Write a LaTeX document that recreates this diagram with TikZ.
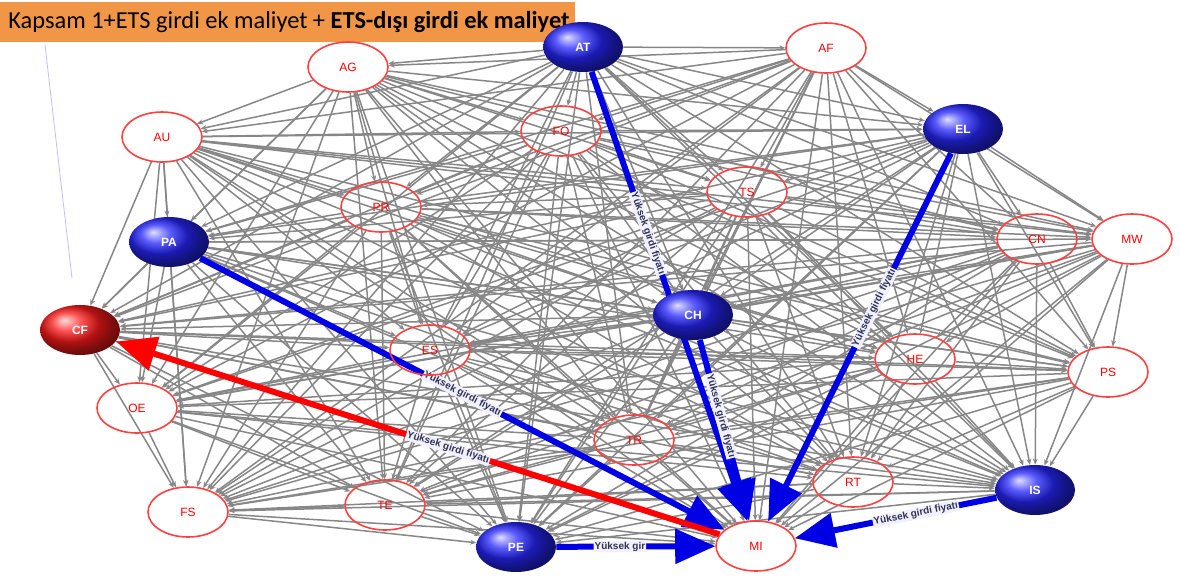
\documentclass[tikz,border=0pt]{standalone}
\usepackage{fontspec}
\setmainfont{Liberation Sans}
\newfontfamily\boxfont{Carlito}
\usetikzlibrary{%
  arrows.meta,
  backgrounds,
  shapes.geometric,
}
\definecolor{boxorange}{RGB}{240,150,70}
\definecolor{edgegray}{RGB}{135,135,135}
\definecolor{labelink}{RGB}{50,50,85}

\begin{document}
\begin{tikzpicture}[
    x = 0.5pt, y = -0.5pt,
    sector/.style = {
      ellipse,
      minimum width = 40pt, minimum height = 25pt,
      inner sep = 0pt,
      font = \fontsize{6}{7}\selectfont,
    },
    plain/.style = {sector, draw = red!75, thick, text = red},
    hub/.style = {sector, shading = ball, ball color = blue!85!white, text = white, font = \fontsize{6}{7}\selectfont\bfseries},
    hot/.style = {hub, ball color = red!90!white},
    link/.style = {edgegray, line width = 0.75pt, -{Stealth[length = 3pt, width = 2.5pt]}},
    impact/.style = {line width = 3pt, -{Triangle[length = 20pt, width = 17pt]}},
    tag/.style = {sloped, fill = blue!6, inner sep = 0.5pt, text = labelink, font = \fontsize{5}{6}\selectfont\bfseries},
  ]
  \useasboundingbox (0,0) rectangle (1180,579);

  \node (title) [
    anchor = north west, fill = boxorange,
    minimum height = 20pt, inner xsep = 4pt,
    font = \boxfont\fontsize{12.2}{14}\selectfont,
  ] at (0,2) {\makebox[279.5pt][l]{Kapsam 1+ETS girdi ek maliyet + \textbf{ETS-dışı girdi ek maliyet}}};

  \node (AT) [hub]   at (583,47)   {AT};
  \node (AF) [plain] at (826,48)   {AF};
  \node (AG) [plain] at (348,67)   {AG};
  \node (AU) [plain] at (162,137)  {AU};
  \node (FO) [plain] at (561,131)  {FO};
  \node (EL) [hub]   at (963,129)  {EL};
  \node (TS) [plain] at (747,192)  {TS};
  \node (PR) [plain] at (381,207)  {PR};
  \node (PA) [hub]   at (169,242)  {PA};
  \node (CN) [plain] at (1037,239) {CN};
  \node (MW) [plain] at (1132,239) {MW};
  \node (CH) [hub]   at (693,315)  {CH};
  \node (CF) [hot]   at (80,330)   {CF};
  \node (ES) [plain] at (430,350)  {ES};
  \node (HE) [plain] at (915,359)  {HE};
  \node (PS) [plain] at (1108,372) {PS};
  \node (OE) [plain] at (137,408)  {OE};
  \node (TR) [plain] at (634,440)  {TR};
  \node (RT) [plain] at (853,482)  {RT};
  \node (IS) [hub]   at (1035,490) {IS};
  \node (FS) [plain] at (188,512)  {FS};
  \node (TE) [plain] at (385,505)  {TE};
  \node (PE) [hub]   at (516,547)  {PE};
  \node (MI) [plain] at (756,546)  {MI};

  \coordinate (pin top) at (45,45);
  \coordinate (pin end) at (72,278);

  \begin{scope}[on background layer]
    \def\sectors{AT,AF,AG,AU,FO,EL,TS,PR,PA,CN,MW,CH,CF,ES,HE,PS,OE,TR,RT,IS,FS,TE,PE,MI}
    \foreach \a [count = \i] in \sectors {
      \foreach \b [count = \j] in \sectors {
        \ifnum\j>\i \draw[link] (\a) -- (\b); \fi
      }
    }
    \draw[blue!25, thin] (pin top) -- (pin end);

    \begin{scope}[impact, blue!90!black]
      \draw (AT) -- node[tag, pos = 0.36] {Yüksek girdi fiyatı} (MI);
      \draw (CH) -- node[tag, pos = 0.42] {Yüksek girdi fiyatı} (MI);
      \draw (EL) -- node[tag, pos = 0.42] {Yüksek girdi fiyatı} (MI);
      \draw (PA) -- node[tag, pos = 0.5] {Yüksek girdi fiyatı} (MI);
      \draw (IS) -- node[tag, pos = 0.4] {Yüksek girdi fiyatı} (MI);
      \draw (PE) -- node[tag, pos = 0.4] {Yüksek gir} (MI);
    \end{scope}
    \draw[impact, red] (MI) -- node[tag, pos = 0.45] {Yüksek girdi fiyatı} (CF);
  \end{scope}
\end{tikzpicture}
\end{document}
